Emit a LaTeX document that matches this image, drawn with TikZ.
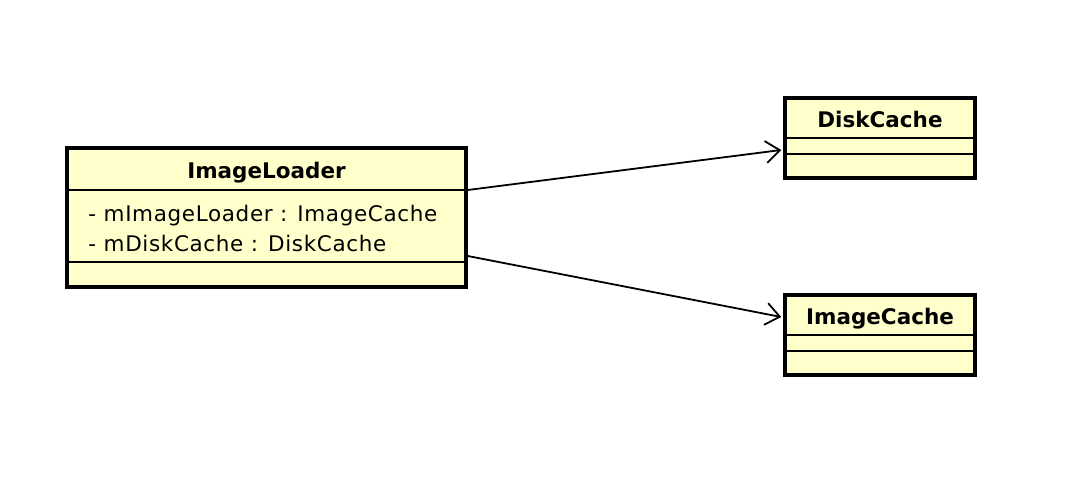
\documentclass[tikz,border=0pt]{standalone}
\usepackage{fontspec}
\setmainfont{DejaVu Sans}
\usetikzlibrary{arrows.meta, positioning, calc}

\definecolor{umlfill}{RGB}{255,255,204}

\begin{document}
\begin{tikzpicture}[
  x=1pt, y=-1pt,
  classbox/.style = {draw, line width=3.5pt, fill=umlfill, inner sep=0pt, minimum width=#1},
  classbox/.default = 190pt,
  divider/.style  = {line width=2pt},
  title/.style    = {font=\fontsize{21.5}{26}\selectfont\bfseries, inner sep=0pt, anchor=base},
  attr/.style     = {font=\fontsize{21.5}{26}\selectfont\addfontfeatures{LetterSpace=3}, inner sep=0pt, anchor=base west},
  assoc/.style    = {line width=1.8pt, -{Straight Barb[length=14pt, width=22pt, line width=1.8pt]}}
]
  \useasboundingbox (0,0) rectangle (1066,502);

  % ImageLoader class
  \node[classbox=399pt, minimum height=139pt] (loader) at (266.5,217.5) {};
  \draw[divider] ($(loader.north west)+(0,44)$) -- ($(loader.north east)+(0,44)$);
  \draw[divider] ($(loader.north west)+(0,116)$) -- ($(loader.north east)+(0,116)$);
  \node[title] (loader-title) at ($(loader.north)+(0,32)$) {ImageLoader};
  \node[attr] (loader-attr1) at ($(loader.north west)+(23,75)$) {- mImageLoader : ImageCache};
  \node[attr] (loader-attr2) at ($(loader.north west)+(23,105)$) {- mDiskCache : DiskCache};

  % DiskCache class
  \node[classbox, minimum height=80pt] (disk) at (880,138) {};
  \draw[divider] ($(disk.north west)+(0,42)$) -- ($(disk.north east)+(0,42)$);
  \draw[divider] ($(disk.north west)+(0,58)$) -- ($(disk.north east)+(0,58)$);
  \node[title] (disk-title) at ($(disk.north)+(0,31)$) {DiskCache};

  % ImageCache class
  \node[classbox, minimum height=80pt] (imgcache) at (880,335) {};
  \draw[divider] ($(imgcache.north west)+(0,42)$) -- ($(imgcache.north east)+(0,42)$);
  \draw[divider] ($(imgcache.north west)+(0,58)$) -- ($(imgcache.north east)+(0,58)$);
  \node[title] (imgcache-title) at ($(imgcache.north)+(0,31)$) {ImageCache};

  % associations
  \coordinate (loader-out1) at ($(loader.east)+(0,-27.5)$);
  \coordinate (loader-out2) at ($(loader.east)+(0,38.5)$);
  \coordinate (disk-in) at ($(disk.west)+(-2,12)$);
  \coordinate (imgcache-in) at ($(imgcache.west)+(-2,-18)$);
  \draw[assoc] (loader-out1) -- (disk-in);
  \draw[assoc] (loader-out2) -- (imgcache-in);

\end{tikzpicture}
\end{document}
